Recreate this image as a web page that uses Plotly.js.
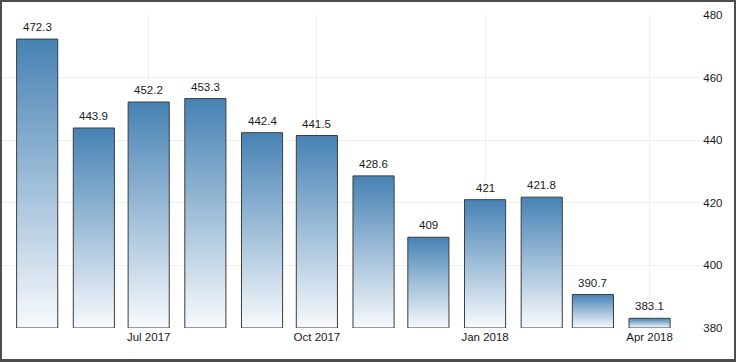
<!DOCTYPE html>
<html>
<head>
<meta charset="utf-8">
<script src="https://cdn.plot.ly/plotly-3.0.1.min.js"></script>
<style>
  html, body { margin: 0; padding: 0; background: #ffffff; }
  #frame { width: 736px; height: 362px; box-sizing: border-box; border: 2px solid #4d4d4d; border-bottom-width: 3px; }
  #chart { width: 732px; height: 357px; }
</style>
</head>
<body>
<div id="frame"><div id="chart"></div></div>
<script>
// ---- data ----
const months = ['2017-05-01','2017-06-01','2017-07-01','2017-08-01','2017-09-01','2017-10-01',
                '2017-11-01','2017-12-01','2018-01-01','2018-02-01','2018-03-01','2018-04-01'];
const values = [472.3, 443.9, 452.2, 453.3, 442.4, 441.5, 428.6, 409, 421, 421.8, 390.7, 383.1];
const valueLabels = ['472.3','443.9','452.2','453.3','442.4','441.5','428.6','409','421','421.8','390.7','383.1'];
const yTicks = [380, 400, 420, 440, 460, 480];

// ---- style ----
const yRange = [380, 480];
const xRange = ['2017-04-11 18:00', '2018-04-28 14:00'];
const DAY = 86400000;
const barWidth = 22.5 * DAY;
const fontFam = '"Liberation Sans", Arial, sans-serif';
const textColor = '#1a1a1a';

const traces = [];
// base bar trace (transparent; bodies drawn with gradient below)
traces.push({
  type: 'bar',
  x: months,
  y: values,
  width: barWidth,
  marker: { color: 'rgba(0,0,0,0)', line: { width: 0 } },
  hoverinfo: 'x+y'
});
// gradient-filled bar bodies built from data
months.forEach(function (m, i) {
  const c = Date.parse(m);
  const l = c - barWidth / 2, r = c + barWidth / 2;
  traces.push({
    type: 'scatter',
    mode: 'lines',
    x: [l, l, r, r, l],
    y: [yRange[0], values[i], values[i], yRange[0], yRange[0]],
    fill: 'toself',
    fillgradient: { type: 'vertical', colorscale: [[0, '#f8fafd'], [1, '#4682b4']] },
    line: { color: '#3d3d3d', width: 1 },
    hoverinfo: 'skip',
    showlegend: false
  });
});

const annotations = months.map(function (m, i) {
  return {
    x: m, y: values[i], xref: 'x', yref: 'y',
    text: valueLabels[i], showarrow: false,
    xanchor: 'center', yanchor: 'bottom', yshift: 4,
    font: { family: fontFam, size: 11.5, color: textColor }
  };
});

const layout = {
  width: 732, height: 357,
  margin: { l: 0, r: 34, t: 13, b: 31 },
  paper_bgcolor: '#ffffff',
  plot_bgcolor: '#ffffff',
  showlegend: false,
  font: { family: fontFam, size: 11, color: textColor },
  annotations: annotations,
  xaxis: {
    type: 'date',
    range: xRange,
    tick0: '2017-01-01',
    dtick: 'M3',
    tickformat: '%b %Y',
    showgrid: true,
    gridcolor: '#efefef',
    zeroline: false,
    showline: false,
    ticks: '',
    tickfont: { family: fontFam, size: 11.5, color: textColor }
  },
  yaxis: {
    side: 'right',
    range: yRange,
    tickvals: yTicks,
    showgrid: true,
    gridcolor: '#efefef',
    zeroline: false,
    showline: false,
    ticks: 'outside',
    ticklen: 3,
    tickcolor: '#e6e6e6',
    ticklabelstandoff: -3,
    tickfont: { family: fontFam, size: 11.5, color: textColor }
  }
};

Plotly.newPlot('chart', traces, layout, { displayModeBar: false, staticPlot: true });
</script>
</body>
</html>
